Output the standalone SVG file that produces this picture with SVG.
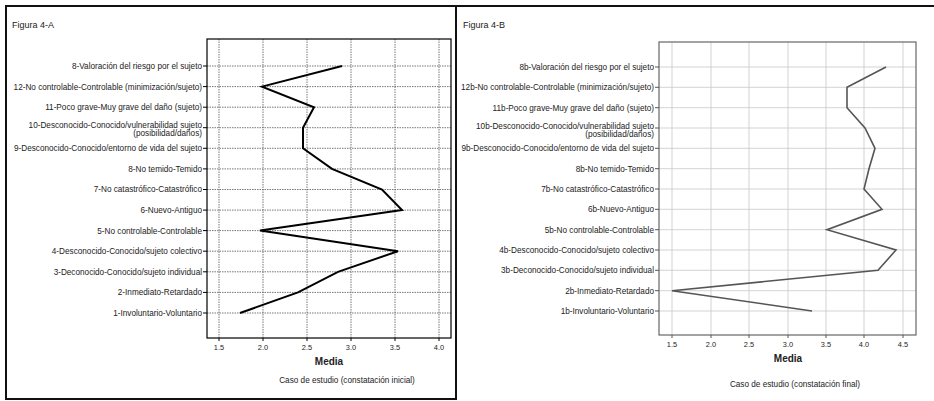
<svg xmlns="http://www.w3.org/2000/svg" width="934" height="401" viewBox="0 0 934 401">
<style>
text{font-family:"Liberation Sans",Arial,sans-serif;fill:#222}
.lab{font-size:8.2px;text-anchor:end}
.tk{font-size:7.4px;text-anchor:middle}
.ttl{font-size:9px}
.ax{font-size:10px;font-weight:bold;text-anchor:middle}
.cap{font-size:8.2px;text-anchor:middle}
.gA{stroke:#555;stroke-width:0.8;stroke-dasharray:1.5 1}
.gB{stroke:#c8c8c8;stroke-width:0.8}
.tickA{stroke:#000;stroke-width:1}
.tickB{stroke:#555;stroke-width:1}
</style>
<rect x="0" y="0" width="934" height="401" fill="#fff"/>
<g id="borders" fill="none" stroke="#111" stroke-width="2">
<rect x="6" y="6" width="450" height="393"/>
<line x1="456" y1="6" x2="934" y2="6"/>
</g>

<g id="panelA">
<text class="ttl" x="12" y="28">Figura 4-A</text>
<g id="gridA">
<line class="gA" x1="219" y1="39" x2="219" y2="338"/>
<line class="gA" x1="263" y1="39" x2="263" y2="338"/>
<line class="gA" x1="307" y1="39" x2="307" y2="338"/>
<line class="gA" x1="351" y1="39" x2="351" y2="338"/>
<line class="gA" x1="395" y1="39" x2="395" y2="338"/>
<line class="gA" x1="439" y1="39" x2="439" y2="338"/>
<line class="gA" x1="207" y1="66" x2="451" y2="66"/>
<line class="gA" x1="207" y1="86.6" x2="451" y2="86.6"/>
<line class="gA" x1="207" y1="107.2" x2="451" y2="107.2"/>
<line class="gA" x1="207" y1="127.7" x2="451" y2="127.7"/>
<line class="gA" x1="207" y1="148.3" x2="451" y2="148.3"/>
<line class="gA" x1="207" y1="168.9" x2="451" y2="168.9"/>
<line class="gA" x1="207" y1="189.5" x2="451" y2="189.5"/>
<line class="gA" x1="207" y1="210.1" x2="451" y2="210.1"/>
<line class="gA" x1="207" y1="230.6" x2="451" y2="230.6"/>
<line class="gA" x1="207" y1="251.2" x2="451" y2="251.2"/>
<line class="gA" x1="207" y1="271.8" x2="451" y2="271.8"/>
<line class="gA" x1="207" y1="292.4" x2="451" y2="292.4"/>
<line class="gA" x1="207" y1="313" x2="451" y2="313"/>
</g>
<rect x="207" y="39" width="244" height="299" fill="none" stroke="#000" stroke-width="1.2"/>
<g id="ticksA">
<line class="tickA" x1="203" y1="66" x2="207" y2="66"/>
<line class="tickA" x1="203" y1="86.6" x2="207" y2="86.6"/>
<line class="tickA" x1="203" y1="107.2" x2="207" y2="107.2"/>
<line class="tickA" x1="203" y1="127.7" x2="207" y2="127.7"/>
<line class="tickA" x1="203" y1="148.3" x2="207" y2="148.3"/>
<line class="tickA" x1="203" y1="168.9" x2="207" y2="168.9"/>
<line class="tickA" x1="203" y1="189.5" x2="207" y2="189.5"/>
<line class="tickA" x1="203" y1="210.1" x2="207" y2="210.1"/>
<line class="tickA" x1="203" y1="230.6" x2="207" y2="230.6"/>
<line class="tickA" x1="203" y1="251.2" x2="207" y2="251.2"/>
<line class="tickA" x1="203" y1="271.8" x2="207" y2="271.8"/>
<line class="tickA" x1="203" y1="292.4" x2="207" y2="292.4"/>
<line class="tickA" x1="203" y1="313" x2="207" y2="313"/>
<line class="tickA" x1="219" y1="338" x2="219" y2="341"/>
<line class="tickA" x1="263" y1="338" x2="263" y2="341"/>
<line class="tickA" x1="307" y1="338" x2="307" y2="341"/>
<line class="tickA" x1="351" y1="338" x2="351" y2="341"/>
<line class="tickA" x1="395" y1="338" x2="395" y2="341"/>
<line class="tickA" x1="439" y1="338" x2="439" y2="341"/>
</g>
<g id="labelsA">
<text class="lab" x="202" y="68.9">8-Valoración del riesgo por el sujeto</text>
<text class="lab" x="202" y="89.5">12-No controlable-Controlable (minimización/sujeto)</text>
<text class="lab" x="202" y="110.1">11-Poco grave-Muy grave del daño (sujeto)</text>
<text class="lab" x="202" y="128.3">10-Desconocido-Conocido/vulnerabilidad sujeto</text>
<text class="lab" x="202" y="136">(posibilidad/daños)</text>
<text class="lab" x="202" y="151.2">9-Desconocido-Conocido/entorno de vida del sujeto</text>
<text class="lab" x="202" y="171.8">8-No temido-Temido</text>
<text class="lab" x="202" y="192.4">7-No catastrófico-Catastrófico</text>
<text class="lab" x="202" y="213">6-Nuevo-Antiguo</text>
<text class="lab" x="202" y="233.5">5-No controlable-Controlable</text>
<text class="lab" x="202" y="254.1">4-Desconocido-Conocido/sujeto colectivo</text>
<text class="lab" x="202" y="274.7">3-Deconocido-Conocido/sujeto individual</text>
<text class="lab" x="202" y="295.3">2-Inmediato-Retardado</text>
<text class="lab" x="202" y="315.9">1-Involuntario-Voluntario</text>
</g>
<g id="xlabelsA">
<text class="tk" x="219" y="350">1.5</text>
<text class="tk" x="263" y="350">2.0</text>
<text class="tk" x="307" y="350">2.5</text>
<text class="tk" x="351" y="350">3.0</text>
<text class="tk" x="395" y="350">3.5</text>
<text class="tk" x="439" y="350">4.0</text>
</g>
<text class="ax" x="329" y="364.5">Media</text>
<text class="cap" x="347" y="383">Caso de estudio (constatación inicial)</text>
<polyline id="seriesA" fill="none" stroke="#000" stroke-width="2" stroke-linejoin="miter" points="342,66 262,86.6 314,107.2 303,127.7 303,148.3 332,168.9 382,189.5 402,210.1 260,230.6 398,251.2 338,271.8 298,292.4 240,313"/>
</g>

<g id="panelB">
<text class="ttl" x="463" y="28">Figura 4-B</text>
<g id="gridB">
<line class="gB" x1="672" y1="42" x2="672" y2="335"/>
<line class="gB" x1="711" y1="42" x2="711" y2="335"/>
<line class="gB" x1="749" y1="42" x2="749" y2="335"/>
<line class="gB" x1="788" y1="42" x2="788" y2="335"/>
<line class="gB" x1="826" y1="42" x2="826" y2="335"/>
<line class="gB" x1="864" y1="42" x2="864" y2="335"/>
<line class="gB" x1="903" y1="42" x2="903" y2="335"/>
<line class="gB" x1="659" y1="67" x2="916" y2="67"/>
<line class="gB" x1="659" y1="87.3" x2="916" y2="87.3"/>
<line class="gB" x1="659" y1="107.7" x2="916" y2="107.7"/>
<line class="gB" x1="659" y1="128" x2="916" y2="128"/>
<line class="gB" x1="659" y1="148.3" x2="916" y2="148.3"/>
<line class="gB" x1="659" y1="168.7" x2="916" y2="168.7"/>
<line class="gB" x1="659" y1="189" x2="916" y2="189"/>
<line class="gB" x1="659" y1="209.3" x2="916" y2="209.3"/>
<line class="gB" x1="659" y1="229.7" x2="916" y2="229.7"/>
<line class="gB" x1="659" y1="250" x2="916" y2="250"/>
<line class="gB" x1="659" y1="270.3" x2="916" y2="270.3"/>
<line class="gB" x1="659" y1="290.7" x2="916" y2="290.7"/>
<line class="gB" x1="659" y1="311" x2="916" y2="311"/>
</g>
<rect x="659" y="42" width="257" height="293" fill="none" stroke="#666" stroke-width="1.2"/>
<g id="ticksB">
<line class="tickB" x1="655" y1="67" x2="659" y2="67"/>
<line class="tickB" x1="655" y1="87.3" x2="659" y2="87.3"/>
<line class="tickB" x1="655" y1="107.7" x2="659" y2="107.7"/>
<line class="tickB" x1="655" y1="128" x2="659" y2="128"/>
<line class="tickB" x1="655" y1="148.3" x2="659" y2="148.3"/>
<line class="tickB" x1="655" y1="168.7" x2="659" y2="168.7"/>
<line class="tickB" x1="655" y1="189" x2="659" y2="189"/>
<line class="tickB" x1="655" y1="209.3" x2="659" y2="209.3"/>
<line class="tickB" x1="655" y1="229.7" x2="659" y2="229.7"/>
<line class="tickB" x1="655" y1="250" x2="659" y2="250"/>
<line class="tickB" x1="655" y1="270.3" x2="659" y2="270.3"/>
<line class="tickB" x1="655" y1="290.7" x2="659" y2="290.7"/>
<line class="tickB" x1="655" y1="311" x2="659" y2="311"/>
<line class="tickB" x1="672" y1="335" x2="672" y2="338"/>
<line class="tickB" x1="711" y1="335" x2="711" y2="338"/>
<line class="tickB" x1="749" y1="335" x2="749" y2="338"/>
<line class="tickB" x1="788" y1="335" x2="788" y2="338"/>
<line class="tickB" x1="826" y1="335" x2="826" y2="338"/>
<line class="tickB" x1="864" y1="335" x2="864" y2="338"/>
<line class="tickB" x1="903" y1="335" x2="903" y2="338"/>
</g>
<g id="labelsB">
<text class="lab" x="654" y="69.9">8b-Valoración del riesgo por el sujeto</text>
<text class="lab" x="654" y="90.2">12b-No controlable-Controlable (minimización/sujeto)</text>
<text class="lab" x="654" y="110.6">11b-Poco grave-Muy grave del daño (sujeto)</text>
<text class="lab" x="654" y="128.8">10b-Desconocido-Conocido/vulnerabilidad sujeto</text>
<text class="lab" x="654" y="136.5">(posibilidad/daños)</text>
<text class="lab" x="654" y="151.2">9b-Desconocido-Conocido/entorno de vida del sujeto</text>
<text class="lab" x="654" y="171.6">8b-No temido-Temido</text>
<text class="lab" x="654" y="191.9">7b-No catastrófico-Catastrófico</text>
<text class="lab" x="654" y="212.2">6b-Nuevo-Antiguo</text>
<text class="lab" x="654" y="232.6">5b-No controlable-Controlable</text>
<text class="lab" x="654" y="252.9">4b-Desconocido-Conocido/sujeto colectivo</text>
<text class="lab" x="654" y="273.2">3b-Deconocido-Conocido/sujeto individual</text>
<text class="lab" x="654" y="293.6">2b-Inmediato-Retardado</text>
<text class="lab" x="654" y="313.9">1b-Involuntario-Voluntario</text>
</g>
<g id="xlabelsB">
<text class="tk" x="672" y="347">1.5</text>
<text class="tk" x="711" y="347">2.0</text>
<text class="tk" x="749" y="347">2.5</text>
<text class="tk" x="788" y="347">3.0</text>
<text class="tk" x="826" y="347">3.5</text>
<text class="tk" x="864" y="347">4.0</text>
<text class="tk" x="903" y="347">4.5</text>
</g>
<text class="ax" x="788" y="361.5">Media</text>
<text class="cap" x="795" y="387">Caso de estudio (constatación final)</text>
<polyline id="seriesB" fill="none" stroke="#555" stroke-width="1.6" points="886,67 847,87.3 847,107.7 865,128 875,148.3 869,168.7 864,189 882,209.3 827,229.7 896,250 878,270.3 672,290.7 812,311"/>
</g>
</svg>
